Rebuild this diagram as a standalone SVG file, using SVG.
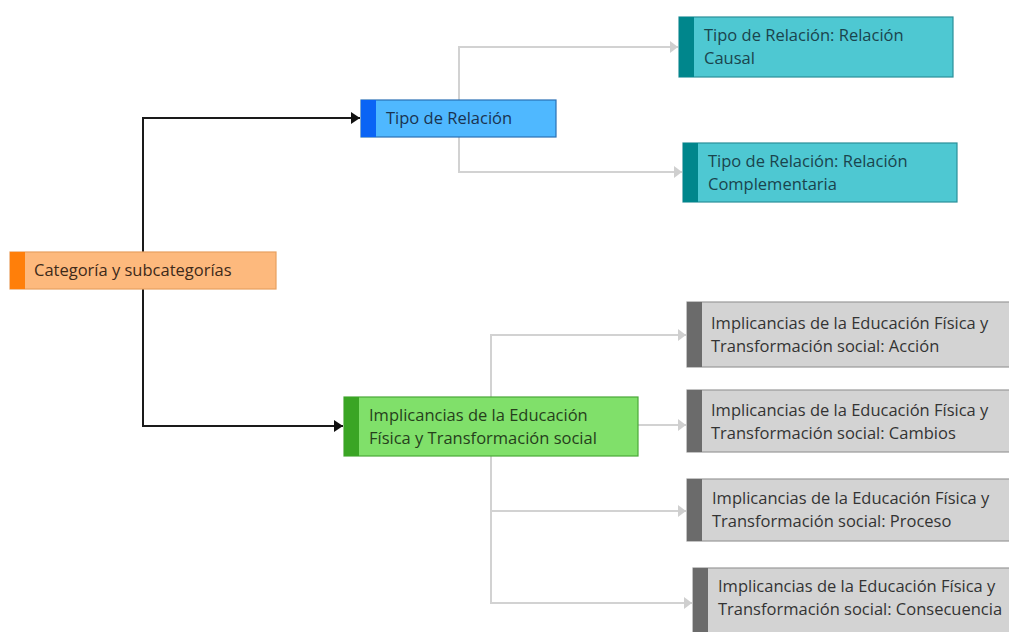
<svg xmlns="http://www.w3.org/2000/svg" width="1009" height="632" viewBox="0 0 1009 632">
<style>
text{font-family:"Open Sans","Noto Sans","Liberation Sans",sans-serif;font-size:16.5px}
.c-black{fill:none;stroke:#1a1a1a;stroke-width:2}
.c-gray{fill:none;stroke:#d2d2d2;stroke-width:2}
.box{stroke-width:1.2}
</style>
<defs>
<marker id="ab" markerUnits="userSpaceOnUse" markerWidth="12" markerHeight="14" refX="10" refY="7" orient="auto"><path d="M1,1 L10,7 L1,13 Z" fill="#111"/></marker>
<marker id="ag" markerUnits="userSpaceOnUse" markerWidth="12" markerHeight="14" refX="10" refY="7" orient="auto"><path d="M2,1 L10,7 L2,13 Z" fill="#cfcfcf"/></marker>
</defs>
<rect width="1009" height="632" fill="#ffffff"/>
<g id="connectors">
<path class="c-black" d="M143,252 V118 H360" marker-end="url(#ab)"/>
<path class="c-black" d="M143,289 V426 H343" marker-end="url(#ab)"/>
<path class="c-gray" d="M459,100 V47 H678" marker-end="url(#ag)"/>
<path class="c-gray" d="M459,137 V172 H682" marker-end="url(#ag)"/>
<path class="c-gray" d="M491,397 V335 H686" marker-end="url(#ag)"/>
<path class="c-gray" d="M638,425 H686" marker-end="url(#ag)"/>
<path class="c-gray" d="M491,456 V603 H692" marker-end="url(#ag)"/>
<path class="c-gray" d="M491,511 H686" marker-end="url(#ag)"/>
</g>
<g id="n-categoria">
<rect class="box" x="10" y="252" width="266" height="37" fill="#fdb97d" stroke="#e8a060"/>
<rect x="10" y="252" width="15" height="37" fill="#ff7f0a"/>
<text x="34" y="276" fill="#3e2a1a">Categoría y subcategorías</text>
</g>
<g id="n-tipo">
<rect class="box" x="361" y="100" width="195" height="37" fill="#4fb8ff" stroke="#2a70b5"/>
<rect x="361" y="100" width="15" height="37" fill="#0a64f5"/>
<text x="386" y="124" fill="#1a3350">Tipo de Relación</text>
</g>
<g id="n-causal">
<rect class="box" x="679" y="17" width="274" height="60" fill="#4ec8d2" stroke="#2a8f99"/>
<rect x="679" y="17" width="15" height="60" fill="#00868c"/>
<text x="704" y="41" fill="#1a444d">Tipo de Relación: Relación</text>
<text x="704" y="64" fill="#1a444d">Causal</text>
</g>
<g id="n-complementaria">
<rect class="box" x="683" y="143" width="274" height="59" fill="#4ec8d2" stroke="#2a8f99"/>
<rect x="683" y="143" width="15" height="59" fill="#00868c"/>
<text x="708" y="167" fill="#1a444d">Tipo de Relación: Relación</text>
<text x="708" y="190" fill="#1a444d">Complementaria</text>
</g>
<g id="n-implicancias">
<rect class="box" x="344" y="397" width="294" height="59" fill="#80e06a" stroke="#4aa838"/>
<rect x="344" y="397" width="15" height="59" fill="#3aa524"/>
<text x="369" y="421" fill="#263f1c">Implicancias de la Educación</text>
<text x="369" y="444" fill="#263f1c">Física y Transformación social</text>
</g>
<g id="n-accion">
<rect class="box" x="687" y="302" width="330" height="65" fill="#d3d3d3" stroke="#9a9a9a"/>
<rect x="687" y="302" width="15" height="65" fill="#6b6b6b"/>
<text x="711" y="329" fill="#333333">Implicancias de la Educación Física y</text>
<text x="711" y="352" fill="#333333">Transformación social: Acción</text>
</g>
<g id="n-cambios">
<rect class="box" x="687" y="390" width="330" height="62" fill="#d3d3d3" stroke="#9a9a9a"/>
<rect x="687" y="390" width="15" height="62" fill="#6b6b6b"/>
<text x="711" y="416" fill="#333333">Implicancias de la Educación Física y</text>
<text x="711" y="439" fill="#333333">Transformación social: Cambios</text>
</g>
<g id="n-proceso">
<rect class="box" x="687" y="479" width="330" height="62" fill="#d3d3d3" stroke="#9a9a9a"/>
<rect x="687" y="479" width="15" height="62" fill="#6b6b6b"/>
<text x="712" y="504" fill="#333333">Implicancias de la Educación Física y</text>
<text x="712" y="527" fill="#333333">Transformación social: Proceso</text>
</g>
<g id="n-consecuencia">
<rect class="box" x="693" y="568" width="330" height="70" fill="#d3d3d3" stroke="#9a9a9a"/>
<rect x="693" y="568" width="15" height="70" fill="#6b6b6b"/>
<text x="718" y="592" fill="#333333">Implicancias de la Educación Física y</text>
<text x="718" y="615" fill="#333333">Transformación social: Consecuencia</text>
</g>
</svg>
